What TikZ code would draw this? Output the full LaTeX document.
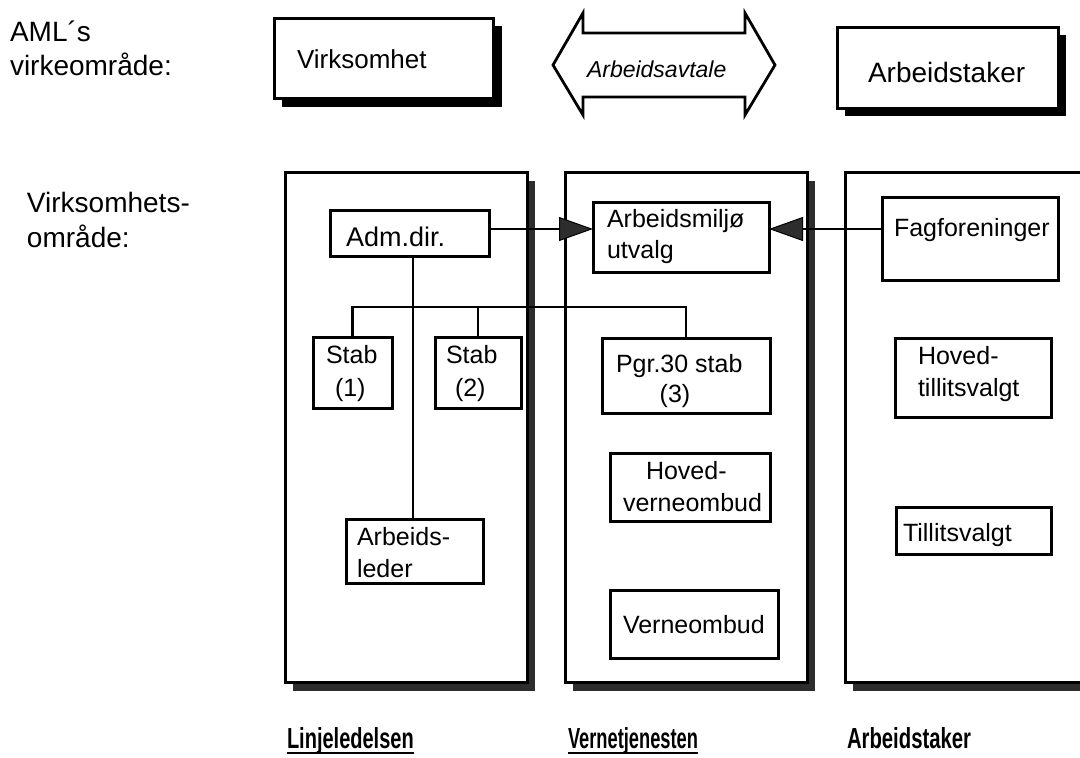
\documentclass[tikz,border=0pt]{standalone}
\usepackage{fontspec}
\usepackage{graphicx}
\setmainfont{Liberation Sans}
\usetikzlibrary{arrows.meta}
\definecolor{shadowgray}{RGB}{45,45,45}

% box with corners (x1,y1) and (x2,y2), y measured downwards
\newcommand\mkbox[6][boxsty]{%
  \node[#1, minimum width={(#5-#3)*1pt}, minimum height={(#6-#4)*1pt}]
    (#2) at ({(#3+#5)/2},{(#4+#6)/2}) {};}

\tikzset{
  boxsty/.style={draw=black, fill=white, line width=3pt, inner sep=0pt, outer sep=0pt},
  colsty/.style={draw=black, fill=white, line width=3pt, inner sep=0pt, outer sep=0pt},
  txt/.style={inner sep=0pt, outer sep=0pt, anchor=base west, font=\fontsize{25}{30}\selectfont},
  bigtxt/.style={txt, font=\fontsize{28}{32}\selectfont},
  lab/.style={inner sep=0pt, outer sep=0pt, anchor=base west, font=\fontsize{29}{34}\selectfont\bfseries},
  conn/.style={line width=2.6pt, draw=black},
  headtip/.style={-{Triangle[length=34pt, width=24pt, fill=shadowgray, line width=1pt]}},
  ul/.style={line width=2.8pt},
  dropsh/.style={fill=shadowgray},
}

\begin{document}
\begin{tikzpicture}[x=1pt, y=-1pt]
\useasboundingbox (0,0) rectangle (1080,758);
\clip (0,0) rectangle (1080,758);
\fill[white] (0,0) rectangle (1080,758);

% ---- top row ----
\node[bigtxt] (aml1) at (10,41) {AML´s};
\node[bigtxt] (aml2) at (10,75) {virkeområde:};

\fill[black] (282,26) rectangle (502,107);
\mkbox{virk}{274}{18}{493}{98}
\node[txt, font=\fontsize{26}{30}\selectfont] (virkT) at (297,68) {Virksomhet};

\draw[line width=2.8pt, line join=miter, fill=white]
  (553,65) -- (583,13) -- (583,33) -- (745,33) -- (745,13) -- (775,65)
  -- (745,115) -- (745,97) -- (583,97) -- (583,115) -- cycle;
\node[txt, font=\fontsize{23}{28}\selectfont\itshape] (avtale) at (587,77) {Arbeidsavtale};

\fill[black] (845,35) rectangle (1066,116);
\mkbox{astk}{837}{27}{1058}{108}
\node[bigtxt] (astkT) at (868,82) {Arbeidstaker};

% ---- row label ----
\node[bigtxt] (vo1) at (27,212) {Virksomhets-};
\node[bigtxt] (vo2) at (27,247) {område:};

% ---- three columns with drop shadows ----
\path[dropsh] (293,181) rectangle (535,691);
\mkbox[colsty]{col1}{285}{172}{527}{682}
\path[dropsh] (573,181) rectangle (815,691);
\mkbox[colsty]{col2}{565}{172}{807}{682}
\path[dropsh] (853,181) rectangle (1110,691);
\mkbox[colsty]{col3}{845}{172}{1100}{682}

% ---- inner boxes ----
\mkbox{adm}{330}{210}{489}{256}
\mkbox{arbm}{593}{202}{769}{272}
\mkbox{fag}{882}{197}{1058}{280}
\mkbox{stab1}{313}{337}{392}{408}
\mkbox{stab2}{435}{337}{521}{408}
\mkbox{pgr}{602}{338}{770}{413}
\mkbox{hvo}{610}{453}{770}{521}
\mkbox{vo}{610}{590}{778}{658}
\mkbox{htv}{895}{338}{1051}{417}
\mkbox{tv}{896}{507}{1051}{554}
\mkbox{al}{346}{519}{483}{583}

% ---- connectors ----
\coordinate (bus) at (0,307);
\coordinate (ly) at (0,229);
\coordinate (trunk) at (413,0);
\draw[conn] (trunk |- adm.south) -- (trunk |- al.north);
\draw[conn] (stab1.north) -- (stab1.north |- bus) -- (pgr.north |- bus) -- (pgr.north);
\draw[conn] (stab2.north |- bus) -- (stab2.north);
\draw[conn, headtip] (adm.east |- ly) -- (arbm.west |- ly);
\draw[conn, headtip] (fag.west |- ly) -- (arbm.east |- ly);

% redraw box outlines over the connector ends
\foreach \b in {adm,al,stab1,stab2,pgr}{\draw[line width=3pt] (\b.north west) rectangle (\b.south east);}

% ---- texts ----
\node[txt, font=\fontsize{27}{30}\selectfont] (admT) at (346,246) {Adm.dir.};
\node[txt] (arbmT1) at (607,227) {Arbeidsmiljø};
\node[txt] (arbmT2) at (607,258) {utvalg};
\node[txt] (fagT) at (894,236) {Fagforeninger};
\node[txt] (stab1T1) at (326,363) {Stab};
\node[txt] (stab1T2) at (335,396) {(1)};
\node[txt] (stab2T1) at (446,363) {Stab};
\node[txt] (stab2T2) at (455,396) {(2)};
\node[txt] (pgrT1) at (616,372) {Pgr.30 stab};
\node[txt, anchor=base] (pgrT2) at (675,402) {(3)};
\node[txt] (hvoT1) at (646,479) {Hoved-};
\node[txt] (hvoT2) at (623,511) {verneombud};
\node[txt] (voT) at (623,633) {Verneombud};
\node[txt] (htvT1) at (918,364) {Hoved-};
\node[txt] (htvT2) at (918,396) {tillitsvalgt};
\node[txt] (tvT) at (903,541) {Tillitsvalgt};
\node[txt] (alT1) at (357,545) {Arbeids-};
\node[txt] (alT2) at (357,577) {leder};

% ---- column captions ----
\node[lab] (linje) at (287,748) {\scalebox{0.69}[1]{Linjeledelsen}};
\node[lab] (verne) at (568,748) {\scalebox{0.63}[1]{Vernetjenesten}};
\node[lab] (arbtk) at (847,748) {\scalebox{0.70}[1]{Arbeidstaker}};
\draw[ul] ([yshift=-5pt]linje.base west) -- ([yshift=-5pt]linje.base east);
\draw[ul] ([yshift=-5pt]verne.base west) -- ([yshift=-5pt]verne.base east);
\end{tikzpicture}
\end{document}
